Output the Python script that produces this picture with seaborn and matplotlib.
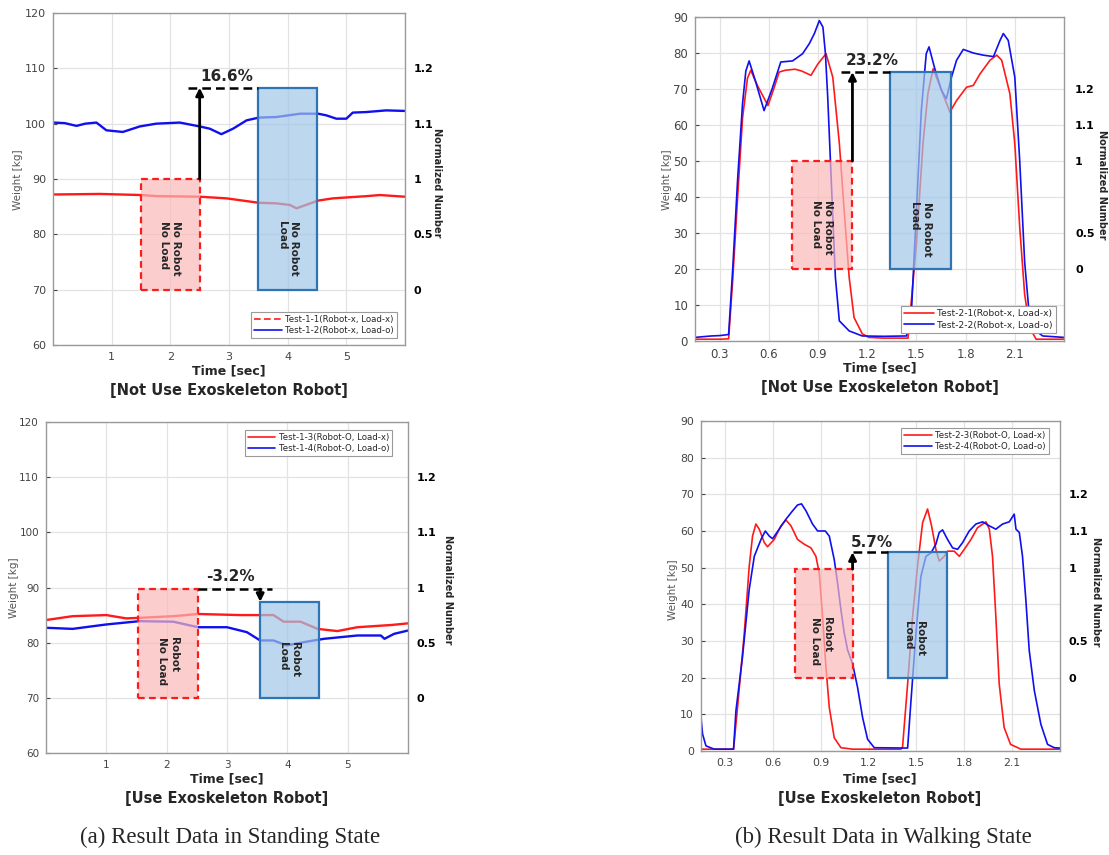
import numpy as np
import pandas as pd
import matplotlib
matplotlib.use("Agg")
import matplotlib.pyplot as plt
from matplotlib.lines import Line2D
from matplotlib.patches import Rectangle
import seaborn as sns

# ---------------- data ----------------
# Standing, without robot
t_1_1 = [0, 0.8, 1.51, 1.77, 2.5, 2.96, 3.51, 3.81, 4.04, 4.15, 4.52, 4.77, 5.34, 5.57, 6.0]
w_1_1 = [87.2, 87.3, 87.1, 86.9, 86.8, 86.5, 85.7, 85.6, 85.3, 84.7, 86.1, 86.5, 86.9, 87.1, 86.8]
t_1_2 = [0, 0.2, 0.40, 0.55, 0.74, 0.91, 1.19, 1.48, 1.76, 2.16, 2.50, 2.67, 2.87, 3.07, 3.30,
         3.51, 3.81, 4.21, 4.52, 4.66, 4.83, 5.00, 5.11, 5.34, 5.68, 6.0]
w_1_2 = [100.2, 100.1, 99.6, 100.0, 100.2, 98.8, 98.5, 99.5, 100.0, 100.2, 99.5, 99.1, 98.1, 99.1, 100.6,
         101.1, 101.2, 101.8, 101.8, 101.5, 100.9, 100.9, 102.0, 102.1, 102.4, 102.3]

# Standing, with robot
t_1_3 = [0, 0.44, 1.0, 1.33, 1.55, 2.11, 2.52, 3.22, 3.55, 3.77, 3.94, 4.22, 4.50, 4.83, 5.16, 5.72, 6.0]
w_1_3 = [84.1, 84.8, 85.0, 84.4, 84.5, 84.8, 85.2, 85.0, 85.0, 85.0, 83.8, 83.8, 82.5, 82.1, 82.8, 83.2, 83.5]
t_1_4 = [0, 0.44, 1.0, 1.55, 2.11, 2.52, 3.0, 3.33, 3.55, 3.77, 3.99, 4.33, 4.61, 5.16, 5.55, 5.61, 5.77, 6.0]
w_1_4 = [82.7, 82.5, 83.3, 83.9, 83.8, 82.8, 82.8, 81.9, 80.4, 80.4, 79.5, 80.2, 80.7, 81.3, 81.3, 80.7, 81.6, 82.2]

# Walking, without robot
t_2_1 = [0.15, 0.30, 0.355, 0.38, 0.41, 0.44, 0.47, 0.49, 0.53, 0.595, 0.63, 0.663, 0.70, 0.76, 0.80,
         0.857, 0.90, 0.949, 0.99, 1.03, 1.06, 1.09, 1.12, 1.17, 1.21, 1.30, 1.449, 1.50, 1.54, 1.57,
         1.602, 1.65, 1.704, 1.745, 1.806, 1.847, 1.888, 1.949, 1.99, 2.02, 2.07, 2.10, 2.13, 2.16,
         2.19, 2.23, 2.40]
w_2_1 = [0.5, 0.5, 0.6, 17, 40, 62, 73, 75.2, 71, 65.4, 70, 74.7, 75.2, 75.5, 75,
         73.8, 77, 79.8, 73.3, 55, 36, 17.7, 6.5, 2, 1, 0.8, 0.8, 27, 54.8, 68.7,
         75.6, 70, 63.6, 66.8, 70.5, 71, 74.2, 78, 79.4, 78, 68.7, 54.8, 31.6, 13,
         3.7, 0.5, 0.5]
t_2_2 = [0.15, 0.25, 0.30, 0.355, 0.38, 0.41, 0.44, 0.46, 0.48, 0.52, 0.571, 0.62, 0.673, 0.745,
         0.806, 0.847, 0.878, 0.908, 0.93, 0.945, 0.959, 0.98, 1.006, 1.03, 1.09, 1.17, 1.30, 1.44,
         1.47, 1.50, 1.53, 1.56, 1.577, 1.61, 1.653, 1.683, 1.714, 1.745, 1.786, 1.847, 1.908, 1.97,
         2.01, 2.03, 2.06, 2.10, 2.13, 2.16, 2.19, 2.23, 2.27, 2.40]
w_2_2 = [1.0, 1.4, 1.5, 1.8, 20, 45, 66, 75, 77.8, 72, 64, 70, 77.5, 77.8,
         79.8, 82.6, 85.4, 89, 87.2, 80, 68, 45.5, 17.7, 5.6, 2.8, 1.4, 1.3, 1.4,
         8.4, 36, 64, 79.8, 81.7, 76, 69.6, 67.3, 73.3, 78, 81, 80, 79.4, 79,
         83.5, 85.4, 83.5, 73.3, 50, 22, 6.3, 2.8, 1.4, 1.0]

# Walking, with robot
t_2_3 = [0.15, 0.354, 0.379, 0.421, 0.452, 0.473, 0.494, 0.515, 0.547, 0.567, 0.609, 0.651, 0.682,
         0.714, 0.755, 0.797, 0.839, 0.87, 0.891, 0.912, 0.933, 0.954, 0.985, 1.027, 1.10, 1.403,
         1.413, 1.445, 1.476, 1.507, 1.539, 1.57, 1.595, 1.622, 1.643, 1.675, 1.695, 1.737, 1.769,
         1.80, 1.842, 1.883, 1.936, 1.957, 1.977, 1.998, 2.019, 2.05, 2.09, 2.155, 2.40]
w_2_3 = [0.5, 0.5, 11.9, 32, 50.3, 58.6, 61.9, 60.5, 56.8, 55.7, 57.7, 61.4, 63,
         61.4, 57.7, 56.4, 55.4, 53.1, 48.6, 36.6, 22.9, 11.9, 3.6, 0.9, 0.5, 0.5,
         1.0, 18.3, 36.6, 50.4, 62.3, 66, 61.4, 55, 51.8, 53.1, 54.5, 54.5, 53.1,
         55, 57.7, 60.9, 62.5, 60.5, 53.1, 36.6, 18.3, 6.4, 1.8, 0.5, 0.5]
t_2_4 = [0.15, 0.16, 0.181, 0.233, 0.354, 0.369, 0.41, 0.452, 0.484, 0.526, 0.553, 0.578, 0.599,
         0.64, 0.682, 0.724, 0.755, 0.78, 0.808, 0.849, 0.881, 0.929, 0.954, 0.985, 1.006, 1.027,
         1.048, 1.069, 1.10, 1.131, 1.163, 1.194, 1.236, 1.445, 1.466, 1.497, 1.528, 1.56, 1.591,
         1.622, 1.643, 1.664, 1.695, 1.727, 1.758, 1.789, 1.831, 1.873, 1.915, 1.957, 1.998, 2.04,
         2.082, 2.113, 2.124, 2.145, 2.165, 2.186, 2.207, 2.239, 2.28, 2.322, 2.364, 2.40]
w_2_4 = [9.1, 4.6, 1.4, 0.5, 0.5, 11, 25.6, 44, 53.1, 57.7, 60, 58.6, 57.9,
         60.5, 63.2, 65.5, 67.1, 67.4, 65.5, 61.9, 60, 60, 58.6, 52.2, 45.8, 38.5,
         32.1, 27.5, 23.8, 17.4, 9.1, 3.2, 0.9, 0.8, 13.7, 32, 47.6, 53.1, 54,
         56.4, 59.6, 60.3, 57.7, 55.4, 55, 56.8, 60, 61.9, 62.5, 61.4, 60.5, 61.9,
         62.5, 64.6, 60.5, 59.6, 53.1, 41.2, 27.5, 16.5, 7.3, 1.8, 0.9, 0.8]

labels_std_1 = ["Test-1-1(Robot-x, Load-x)", "Test-1-2(Robot-x, Load-o)"]
labels_std_2 = ["Test-1-3(Robot-O, Load-x)", "Test-1-4(Robot-O, Load-o)"]
labels_walk_1 = ["Test-2-1(Robot-x, Load-x)", "Test-2-2(Robot-x, Load-o)"]
labels_walk_2 = ["Test-2-3(Robot-O, Load-x)", "Test-2-4(Robot-O, Load-o)"]

std_xticks = [1, 2, 3, 4, 5]
walk_xticks = [0.3, 0.6, 0.9, 1.2, 1.5, 1.8, 2.1]
norm_labels = ["0", "0.5", "1", "1.1", "1.2"]
std_norm_pos = [70, 80, 90, 100, 110]
walk_norm_pos = [20, 30, 50, 60, 70]

percents = ["16.6%", "23.2%", "-3.2%", "5.7%"]
box_texts = [("No Robot\nNo Load", "No Robot\nLoad"),
             ("No Robot\nNo Load", "No Robot\nLoad"),
             ("Robot\nNo Load", "Robot\nLoad"),
             ("Robot\nNo Load", "Robot\nLoad")]
subtitles = ["[Not Use Exoskeleton Robot]", "[Not Use Exoskeleton Robot]",
             "[Use Exoskeleton Robot]", "[Use Exoskeleton Robot]"]
captions = ["(a) Result Data in Standing State", "(b) Result Data in Walking State"]

# ---------------- style ----------------
sns.set_theme(style="whitegrid")
plt.rcParams["font.family"] = ["DejaVu Sans"]

RED = "#ff1a1a"
BLUE = "#1010ee"
RED_FILL = "#fbb8b8"
BLUE_FILL = "#a1c6e7"
BLUE_EDGE = "#2e75b6"
GRID = "#e3e3e3"
SPINE = "#9a9a9a"

W, H = 1109, 855
fig = plt.figure(figsize=(W / 100, H / 100), dpi=100)


def px_axes(l, t, r, b):
    return fig.add_axes([l / W, 1 - b / H, (r - l) / W, (b - t) / H])


def style_axes(ax, xlim, ylim, xticks, yticks, fs):
    ax.set_xlim(*xlim)
    ax.set_ylim(*ylim)
    ax.set_xticks(xticks)
    ax.set_xticklabels([("%g" % v) for v in xticks])
    ax.set_yticks(yticks)
    ax.set_facecolor("white")
    ax.grid(True, color=GRID, linewidth=0.9)
    for s in ax.spines.values():
        s.set_visible(True)
        s.set_color(SPINE)
        s.set_linewidth(1.0)
    ax.tick_params(axis="both", labelsize=fs, colors="#444444", length=3,
                   direction="in", pad=5, right=True, top=False, width=0.8)
    ax.set_xlabel("")
    ax.set_ylabel("")


def add_norm(ax, pos, pad):
    ax2 = ax.twinx()
    ax2.set_ylim(ax.get_ylim())
    ax2.set_yticks(pos)
    ax2.set_yticklabels(norm_labels, fontweight="bold", fontsize=8, color="black")
    ax2.tick_params(axis="y", length=0, pad=pad)
    ax2.grid(False)
    for s in ax2.spines.values():
        s.set_visible(False)
    return ax2


def add_line(ax, t, w, color, lw):
    df = pd.DataFrame({"t": t, "w": w})
    sns.lineplot(data=df, x="t", y="w", ax=ax, color=color, linewidth=lw,
                 estimator=None, sort=False, legend=False, zorder=2)


def add_box(ax, x0, x1, y0, y1, fill, edge, ls):
    ax.add_patch(Rectangle((x0, y0), x1 - x0, y1 - y0, facecolor=fill, alpha=0.7,
                           edgecolor="none", zorder=3))
    ax.add_patch(Rectangle((x0, y0), x1 - x0, y1 - y0, facecolor="none",
                           edgecolor=edge, linewidth=1.6, linestyle=ls, zorder=4))


def add_legend(ax, labels, red_dashed, loc, anchor, fs):
    h = [Line2D([0], [0], color=RED, lw=1.2, linestyle=(0, (4, 2)) if red_dashed else "-"),
         Line2D([0], [0], color=BLUE, lw=1.2)]
    leg = ax.legend(h, labels, loc=loc, bbox_to_anchor=anchor, fontsize=fs,
                    frameon=True, fancybox=False, framealpha=1, edgecolor="#9a9a9a",
                    handlelength=3.2, handletextpad=0.4, borderpad=0.35, labelspacing=0.25,
                    borderaxespad=0)
    leg.get_frame().set_linewidth(0.8)
    leg.set_zorder(10)


def annotate_change(ax, x_arrow, y_from, y_to, x_dash0, x_dash1, txt, tx, ty):
    ax.plot([x_dash0, x_dash1], [y_to if y_to > y_from else y_from] * 2, color="black",
            linewidth=1.8, linestyle=(0, (3.5, 2)), zorder=5)
    ax.annotate("", xy=(x_arrow, y_to), xytext=(x_arrow, y_from),
                arrowprops=dict(arrowstyle="-|>", color="black", lw=2.0,
                                mutation_scale=11, shrinkA=0, shrinkB=0), zorder=6)
    ax.text(tx, ty, txt, fontsize=11, fontweight="bold", ha="center", va="center", zorder=6)


def box_label(ax, x, y, txt, fs=7.5):
    ax.text(x, y, txt, rotation=-90, ha="center", va="center", fontsize=fs,
            fontweight="bold", multialignment="left", zorder=6, linespacing=1.25)


# ---------------- panel 1: standing, no robot ----------------
ax1 = px_axes(53, 13, 405, 345)
add_line(ax1, t_1_1, w_1_1, RED, 1.7)
add_line(ax1, t_1_2, w_1_2, BLUE, 1.7)
style_axes(ax1, (0, 6), (60, 120), std_xticks, list(range(60, 121, 10)), 8)
add_box(ax1, 1.5, 2.5, 70, 90, RED_FILL, RED, (0, (3, 2)))
add_box(ax1, 3.5, 4.5, 70, 106.5, BLUE_FILL, BLUE_EDGE, "-")
annotate_change(ax1, 2.5, 90, 106.5, 2.3, 3.5, percents[0], 2.97, 108.6)
box_label(ax1, 2.0, 77.5, box_texts[0][0])
box_label(ax1, 4.0, 77.5, box_texts[0][1])
add_legend(ax1, labels_std_1, True, "lower right", (0.977, 0.02), 6.2)
add_norm(ax1, std_norm_pos, 6)

# ---------------- panel 2: walking, no robot ----------------
ax2 = px_axes(695, 17, 1064, 341)
add_line(ax2, t_2_1, w_2_1, RED, 1.2)
add_line(ax2, t_2_2, w_2_2, BLUE, 1.2)
style_axes(ax2, (0.15, 2.4), (0, 90), walk_xticks, list(range(0, 91, 10)), 8.5)
add_box(ax2, 0.74, 1.11, 20, 50, RED_FILL, RED, (0, (3, 2)))
add_box(ax2, 1.34, 1.71, 20, 74.7, BLUE_FILL, BLUE_EDGE, "-")
annotate_change(ax2, 1.11, 50, 74.7, 1.04, 1.34, percents[1], 1.23, 78.0)
box_label(ax2, 0.925, 31.5, box_texts[1][0])
box_label(ax2, 1.525, 31.0, box_texts[1][1])
add_legend(ax2, labels_walk_1, False, "lower right", (0.978, 0.025), 6.6)
add_norm(ax2, walk_norm_pos, 8)

# ---------------- panel 3: standing, with robot ----------------
ax3 = px_axes(46, 422, 408, 753)
add_line(ax3, t_1_3, w_1_3, RED, 1.7)
add_line(ax3, t_1_4, w_1_4, BLUE, 1.7)
style_axes(ax3, (0, 6), (60, 120), std_xticks, list(range(60, 121, 10)), 7.5)
add_box(ax3, 1.52, 2.52, 70, 89.8, RED_FILL, RED, (0, (3, 2)))
add_box(ax3, 3.55, 4.53, 70, 87.4, BLUE_FILL, BLUE_EDGE, "-")
ax3.plot([2.52, 3.75], [89.7, 89.7], color="black", linewidth=1.8,
         linestyle=(0, (3.5, 2)), zorder=5)
ax3.annotate("", xy=(3.55, 87.4), xytext=(3.55, 89.7),
             arrowprops=dict(arrowstyle="-|>", color="black", lw=2.0,
                             mutation_scale=11, shrinkA=0, shrinkB=0), zorder=6)
ax3.text(3.05, 92.0, percents[2], fontsize=11, fontweight="bold", ha="center", va="center", zorder=6)
box_label(ax3, 2.02, 76.7, box_texts[2][0])
box_label(ax3, 4.02, 77.0, box_texts[2][1])
add_legend(ax3, labels_std_2, False, "upper right", (0.956, 0.976), 6.2)
add_norm(ax3, std_norm_pos, 6)

# ---------------- panel 4: walking, with robot ----------------
ax4 = px_axes(701, 421, 1060, 751)
add_line(ax4, t_2_3, w_2_3, RED, 1.2)
add_line(ax4, t_2_4, w_2_4, BLUE, 1.2)
style_axes(ax4, (0.15, 2.4), (0, 90), walk_xticks, list(range(0, 91, 10)), 7.8)
add_box(ax4, 0.74, 1.1, 20, 49.6, RED_FILL, RED, (0, (3, 2)))
add_box(ax4, 1.32, 1.69, 20, 54.2, BLUE_FILL, BLUE_EDGE, "-")
annotate_change(ax4, 1.1, 49.6, 54.2, 1.1, 1.32, percents[3], 1.22, 56.8)
box_label(ax4, 0.9, 30.0, box_texts[3][0])
box_label(ax4, 1.485, 30.8, box_texts[3][1])
add_legend(ax4, labels_walk_2, False, "upper right", (0.969, 0.979), 6.2)
add_norm(ax4, walk_norm_pos, 6)

# ---------------- figure-level texts ----------------
def ftext(x, y, s, **kw):
    fig.text(x / W, 1 - y / H, s, **kw)

for (cx, y_time, y_sub, sub) in [(229, 371, 390, subtitles[0]), (880, 368, 387, subtitles[1]),
                                 (227, 779, 798, subtitles[2]), (880, 779, 798, subtitles[3])]:
    ftext(cx, y_time, "Time [sec]", ha="center", va="center", fontsize=9, fontweight="bold")
    ftext(cx, y_sub, sub, ha="center", va="center", fontsize=10.5, fontweight="bold")

for (x, y) in [(18, 180), (667, 180), (14, 588), (673, 590)]:
    ftext(x, y, "Weight [kg]", ha="center", va="center", rotation=90, fontsize=7.5, color="#555555")

for (x, y) in [(437, 183), (1102, 185), (448, 590), (1096, 592)]:
    ftext(x, y, "Normalized Number", ha="center", va="center", rotation=270,
          fontsize=7, fontweight="bold")

ftext(230, 837, captions[0], ha="center", va="center", fontsize=16.5, family="Liberation Serif")
ftext(883, 837, captions[1], ha="center", va="center", fontsize=16.5, family="Liberation Serif")

fig.savefig("out.png", dpi=100, facecolor="white")
